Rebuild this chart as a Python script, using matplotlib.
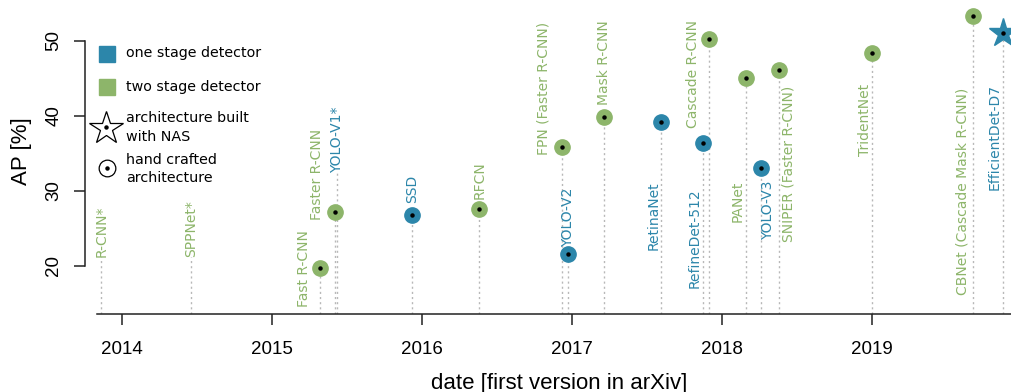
import numpy as np
import matplotlib.pyplot as plt

# detectors, date of first arXiv version and COCO AP
models = ["R-CNN*", "SPPNet*", "Fast R-CNN", "Faster R-CNN", "YOLO-V1*", "SSD",
          "RFCN", "FPN (Faster R-CNN)", "YOLO-V2", "Mask R-CNN", "RetinaNet",
          "RefineDet-512", "Cascade R-CNN", "PANet", "YOLO-V3",
          "SNIPER (Faster R-CNN)", "TridentNet", "CBNet (Cascade Mask R-CNN)",
          "EfficientDet-D7"]
dates = [2013.86, 2014.46, 2015.32, 2015.42, 2015.433, 2015.93, 2016.38,
         2016.93, 2016.97, 2017.21, 2017.59, 2017.87, 2017.91, 2018.16,
         2018.26, 2018.38, 2019.00, 2019.67, 2019.87]
ap = [np.nan, np.nan, 19.7, 27.2, np.nan, 26.8, 27.6, 35.8, 21.6, 39.8, 39.1,
      36.4, 50.2, 45.0, 33.0, 46.1, 48.4, 53.3, 51.0]
stage = ["two", "two", "two", "two", "one", "one", "two", "two", "one", "two",
         "one", "one", "two", "two", "one", "two", "two", "two", "one"]
nas = ["EfficientDet-D7"]

# where each name is written: (shift in pixels from the stem, AP where the text starts)
label_pos = {
    "R-CNN*": (0, 21.15), "SPPNet*": (0, 21.15), "Fast R-CNN": (-16, 14.5),
    "Faster R-CNN": (-18, 26.1), "YOLO-V1*": (0, 32.4), "SSD": (0, 28.4),
    "RFCN": (0, 28.9), "FPN (Faster R-CNN)": (-18, 34.7), "YOLO-V2": (0, 22.5),
    "Mask R-CNN": (0, 41.4), "RetinaNet": (-7, 22.1), "RefineDet-512": (-8.5, 17.0),
    "Cascade R-CNN": (-16, 38.4), "PANet": (-8.5, 25.8), "YOLO-V3": (7, 23.4),
    "SNIPER (Faster R-CNN)": (9, 23.1), "TridentNet": (-7.5, 34.6),
    "CBNet (Cascade Mask R-CNN)": (-10, 16.1), "EfficientDet-D7": (-8.5, 30.1),
}

colors = {"one": "#2c86aa", "two": "#8db56a"}

plt.rcParams["font.family"] = ["Liberation Sans", "DejaVu Sans"]

W, H = 1011, 392
fig = plt.figure(figsize=(W / 100, H / 100), dpi=100)
left, right, bottom, top = 85, 1032.4, 314, -12.6
ax = fig.add_axes([left / W, 1 - bottom / H, (right - left) / W, (bottom - top) / H])
ax.set_xlim(2013.751, 2020.067)
ax.set_ylim(13.56, 57.1)

for name, d, v, s in zip(models, dates, ap, stage):
    dx, ly = label_pos[name]
    c = colors[s]
    stem_top = ly if np.isnan(v) else v
    ax.plot([d, d], [13.56, stem_top], color="#b8b8b8", lw=1,
            linestyle=(0, (1.5, 2.2)), zorder=1)
    if not np.isnan(v):
        if name in nas:
            ax.plot(d, v, marker="*", ms=21, color=c, mec=c, zorder=3)
        else:
            ax.plot(d, v, marker="o", ms=11, color=c, mec=c, zorder=3)
        ax.plot(d, v, marker="o", ms=2.2, color="black", zorder=4)
    ax.annotate(name, (d, ly), xytext=(dx, 0), textcoords="offset pixels",
                rotation=90, ha="center", va="bottom", color=c,
                fontsize=10, family="DejaVu Sans", zorder=2)

for side in ["top", "right"]:
    ax.spines[side].set_visible(False)
ax.spines["left"].set_bounds(20, 50)
ax.spines["bottom"].set_bounds(2013.833, 2020.067)
for side in ["left", "bottom"]:
    ax.spines[side].set_linewidth(1.1)
    ax.spines[side].set_color("#222222")

ax.set_xticks([2014, 2015, 2016, 2017, 2018, 2019])
ax.set_xticklabels(["2014", "2015", "2016", "2017", "2018", "2019"])
ax.set_yticks([20, 30, 40, 50])
ax.tick_params(length=8, width=1.1, color="#222222", labelsize=13.5)
ax.tick_params(axis="x", pad=11.4)
ax.tick_params(axis="y", pad=8.4, labelrotation=90)
plt.setp(ax.get_yticklabels(), va="center")

ax.set_xlabel("date [first version in arXiv]", fontsize=16, va="center")
ax.xaxis.set_label_coords(0.5, (bottom - 383) / (bottom - top))
ax.set_ylabel("AP [%]", fontsize=16, va="center", ha="center")
ax.yaxis.set_label_coords((21.5 - left) / (right - left), 0.5)


# key in the upper left corner, placed in figure pixels
def fig_xy(px, py):
    return px / W, 1 - py / H


key_font = dict(family="DejaVu Sans", fontsize=10.3, va="center", ha="left",
                linespacing=1.45)
for py, c in [(53.5, colors["one"]), (87, colors["two"])]:
    fig.add_artist(plt.Line2D(*[[v] for v in fig_xy(107, py)], marker="s",
                              ms=11.5, color=c, transform=fig.transFigure))
fig.add_artist(plt.Line2D(*[[v] for v in fig_xy(106, 128)], marker="*", ms=25,
                          mfc="none", mec="black", mew=0.9,
                          transform=fig.transFigure))
fig.add_artist(plt.Line2D(*[[v] for v in fig_xy(106.7, 168)], marker="o", ms=12,
                          mfc="none", mec="black", mew=0.9,
                          transform=fig.transFigure))
for px, py in [(106, 126.5), (106.7, 168)]:
    fig.add_artist(plt.Line2D(*[[v] for v in fig_xy(px, py)], marker="o", ms=2.2,
                              color="black", transform=fig.transFigure))

fig.text(*fig_xy(125.7, 53.5), "one stage detector", **key_font)
fig.text(*fig_xy(125.7, 87), "two stage detector", **key_font)
fig.text(*fig_xy(125.7, 127.5), "architecture built\nwith NAS", **key_font)
fig.text(*fig_xy(125.7, 169), "hand crafted\narchitecture", **key_font)

fig.savefig("out.png", dpi=100)
